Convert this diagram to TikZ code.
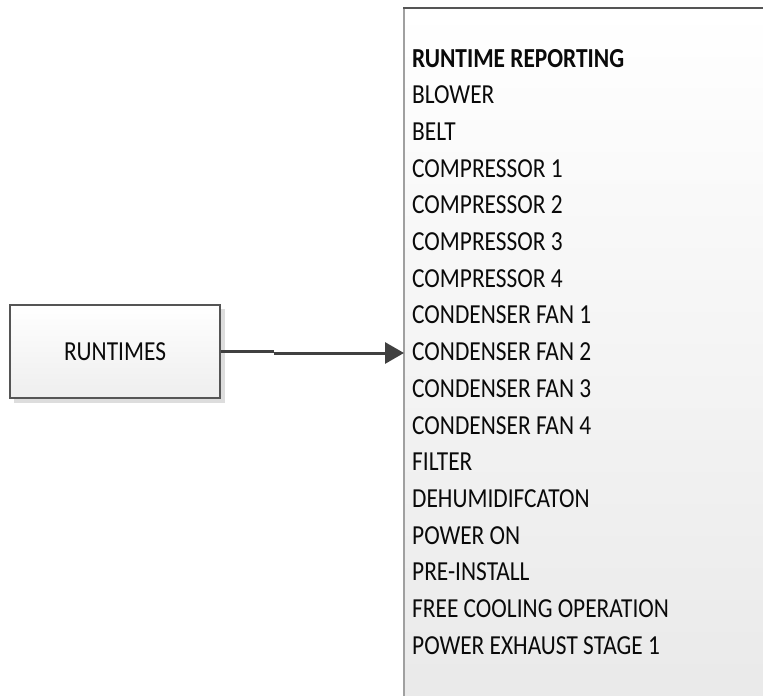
\documentclass[tikz,border=0pt]{standalone}
\usepackage{fontspec}
\setmainfont{Carlito}[FakeStretch=0.85]
\usetikzlibrary{arrows.meta}
\definecolor{edgedark}{HTML}{555555}
\definecolor{edgelight}{HTML}{A0A0A0}
\definecolor{shadowgray}{HTML}{DDDDDD}
\definecolor{fillbottom}{HTML}{EEEEEE}
\definecolor{linkgray}{HTML}{404040}
\definecolor{txt}{HTML}{0A0A0A}
\tikzset{
  listitem/.style={anchor=base west, inner sep=0pt, text=txt, font=\fontsize{27.5}{30}\selectfont},
  procbox/.style={draw=edgedark, line width=1.3pt, top color=white, bottom color=fillbottom,
    minimum width=210pt, minimum height=93pt, inner sep=0pt, text=txt,
    font=\fontsize{27.5}{30}\selectfont},
  conn/.style={draw=linkgray, line width=3pt},
}
\begin{document}
\begin{tikzpicture}[x=1pt,y=-1pt]
\useasboundingbox (0,0) rectangle (763,696);
\clip (0,0) rectangle (763,696);
\fill[white] (0,0) rectangle (763,696);
% shadow of left box
\fill[shadowgray] (14,309) rectangle (225,403);
\node (runtimes) [procbox] at (115,351.5) {RUNTIMES};
% report box
\node (report) [anchor=north west, top color=white, bottom color=fillbottom!95!gray,
  minimum width=400pt, minimum height=720pt, inner sep=0pt] at (404,8) {};
\draw[edgelight, line width=1.3pt] (report.north west) -- (report.south west);
\draw[edgedark, line width=1.3pt] ([xshift=-0.65pt]report.north west) -- (report.north east);
% list
\foreach [count=\i from 0] \t in {{\bfseries RUNTIME REPORTING},BLOWER,BELT,COMPRESSOR 1,COMPRESSOR 2,COMPRESSOR 3,COMPRESSOR 4,CONDENSER FAN 1,CONDENSER FAN 2,CONDENSER FAN 3,CONDENSER FAN 4,FILTER,DEHUMIDIFCATON,POWER ON,PRE-INSTALL,FREE COOLING OPERATION,POWER EXHAUST STAGE 1}
  \node (item\i) [listitem] at (412,{67+36.7*\i}) {\t};
% connector
\draw[conn] (runtimes.east) -- ++(53,0) coordinate (bend);
\draw[conn, -{Triangle[length=19pt,width=21pt]}] ([yshift=-1.5pt]bend) -- ([yshift=-1.5pt]bend -| report.west);
\end{tikzpicture}
\end{document}
